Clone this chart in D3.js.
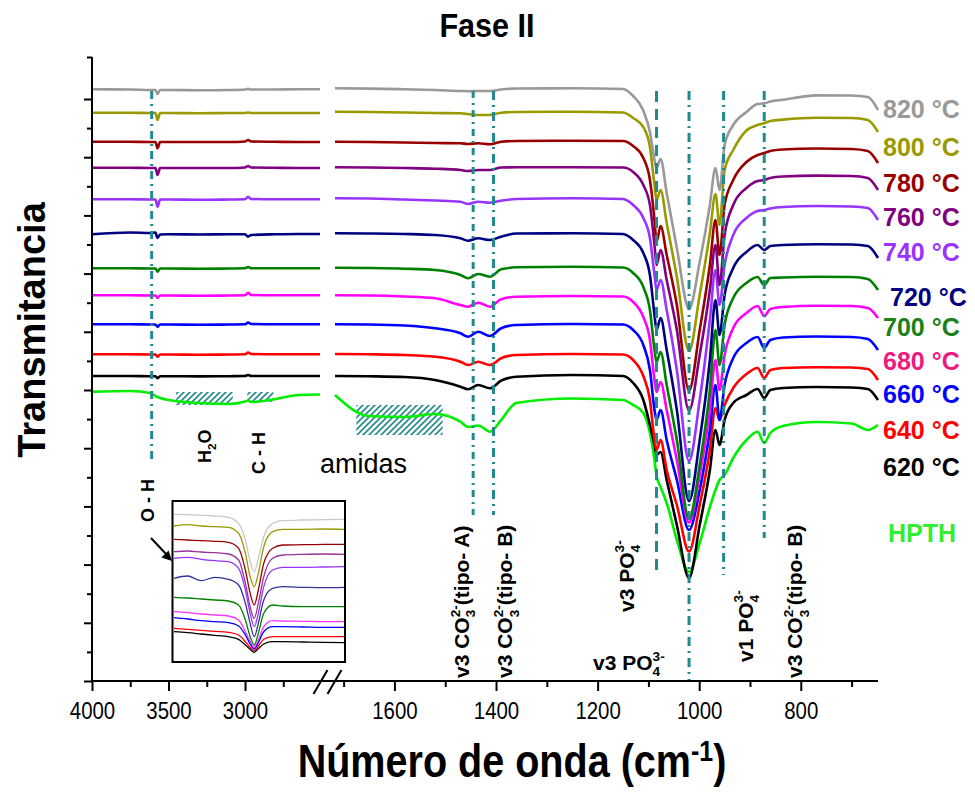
<!DOCTYPE html>
<html>
<head>
<meta charset="utf-8">
<script src="https://cdn.jsdelivr.net/npm/d3@7"></script>
<style>
  body { margin: 0; background: #fff; }
</style>
</head>
<body>
<div id="chart"></div>
<script>
// wavenumbers (cm-1), left block before the axis break, right block after it
var waveNumber = [4000, 3750, 3620, 3585, 3572, 3555, 3500, 3300, 3100, 3000, 2980, 2960, 2800, 2650, 2510,
  1717, 1650, 1580, 1520, 1470, 1455, 1435, 1412, 1390, 1360, 1250, 1150, 1130, 1110, 1097, 1088, 1084, 1076,
  1064, 1044, 1020, 999, 979, 968, 960, 950, 933, 907, 885, 872, 860, 835, 769, 700, 668, 648];

// transmittance (a.u., stacked)
var t820 = [591.7, 591.5, 591, 591, 587, 591, 591, 590.7, 591, 591.5, 592.2, 591.5, 591.5, 591.7, 591.7,
  592.7, 592.4, 591.7, 591, 590, 589.8, 590, 590, 591.5, 592.5, 592.7, 592, 585, 570.4, 549, 521, 513, 522,
  488, 433, 372, 419, 476, 513, 491, 536, 556, 569, 577, 577.6, 579.5, 581.2, 585.6, 585.5, 584, 571];
var t800 = [568.3, 568.2, 568, 568, 561, 568, 568, 567.8, 568, 568, 568.5, 568, 568, 568, 568,
  569.3, 569, 568.5, 568, 567.7, 567, 566, 566, 568.3, 569, 569.3, 568.5, 563, 554, 534, 496, 481, 491,
  458, 404, 330, 386, 448, 487, 456, 511, 531, 550.5, 556, 557.8, 560, 561.4, 563.2, 563, 561, 549];
var t780 = [539.3, 539.2, 539, 539, 532.7, 539, 539, 539, 539, 539.5, 541, 539.5, 539.2, 539, 539,
  539.3, 539, 538.5, 538, 537.7, 537, 537.7, 536.7, 539.3, 540, 540.3, 540, 535, 523, 501, 461, 439, 455,
  426, 376, 290.3, 351, 416, 461, 426, 476, 501, 519, 526, 528, 530, 531.5, 532.5, 532, 530, 518];
var t760 = [513.3, 513.2, 513, 513, 506, 513, 513, 513, 513, 513.5, 515, 513.5, 513.2, 513, 513,
  513.7, 513.5, 513, 512.3, 511, 510, 511, 511, 513.5, 513.7, 513.7, 513.5, 509, 496, 476, 436, 416, 431,
  401, 351, 270.4, 326, 391, 436, 396, 446, 476, 493, 500, 501, 503, 504.5, 505.4, 505, 503, 491];
var t740 = [481.7, 481.7, 481.5, 481.5, 474.3, 481.5, 481.5, 481.2, 481.5, 481.7, 484.3, 482, 481.7, 481.7, 481.7,
  482.7, 482.5, 481.5, 480.5, 479.3, 477, 479.3, 478.3, 480.3, 482, 482.7, 482, 476, 463, 443, 406, 391, 401,
  371, 311, 220, 281, 361, 411, 376, 416, 446, 463, 470, 471, 472.5, 474, 475, 474.5, 473, 461];
var t720 = [446.7, 448.5, 448, 448.5, 443, 446.5, 446.7, 446.5, 446.7, 446.7, 444.3, 446, 446.7, 447, 447,
  447.7, 447.5, 447, 446, 442.7, 440.3, 442.7, 441, 444.3, 447.5, 447.7, 447, 441, 428, 406, 366, 351, 363,
  331, 271, 180, 241, 321, 381, 346, 386, 413, 429, 436, 431, 435, 436, 436.7, 436.5, 435, 423];
var t700 = [412.7, 412.7, 412.5, 412.5, 409.3, 412.5, 412.5, 412.3, 412.5, 412.7, 414, 412.7, 412.7, 412.7, 412.7,
  413.3, 413, 412.3, 411, 406, 402.7, 407, 404.3, 411.7, 413.7, 414.3, 413.5, 408, 394, 371, 331, 319, 329,
  296, 241, 162, 216, 291, 351, 316, 356, 383, 398, 404, 396, 403, 403.5, 404.2, 404, 402, 391];
var t680 = [385.7, 385.7, 385.5, 385.5, 383, 385.5, 385.5, 385.3, 385.5, 385.7, 388.3, 386, 385.7, 385.7, 385.7,
  385.7, 385.5, 384.5, 382.7, 376, 374.3, 378.3, 374.3, 381.7, 384.3, 385, 384.5, 379, 364, 341, 301, 289, 299,
  271, 221, 158.4, 206, 271, 321, 291, 326, 353, 368, 375, 365, 372, 374, 375.2, 375, 373, 363];
var t660 = [356.7, 356.7, 356.5, 356.5, 354.3, 356.5, 356.5, 356.3, 356.5, 356.7, 358.5, 357, 356.7, 356.7, 356.7,
  356.7, 356.5, 355.5, 352.7, 347.7, 344.3, 349.3, 345, 352.7, 356, 357, 356.5, 351, 336, 311, 271, 261, 271,
  241, 201, 151, 191, 251, 296, 261, 296, 323, 338, 344, 333, 341, 343.5, 344.5, 344, 342, 331];
var t640 = [326.7, 326.7, 326.5, 326.5, 324.3, 326.5, 326.5, 326.3, 326.5, 326.7, 328.5, 327, 326.7, 326.7, 326.7,
  327, 326.7, 326, 324.3, 319.3, 316, 319.3, 316, 322.7, 326, 327, 326.5, 321, 305, 281, 241, 231, 241,
  211, 176, 129.5, 176, 231, 273, 261, 276, 293, 307, 313, 303, 311, 313, 313.8, 313.5, 312, 301];
var t620 = [305, 305, 304.8, 304.8, 302.7, 304.8, 304.8, 304.6, 304.8, 305, 306, 305, 305, 305, 305,
  305, 304.7, 304, 301, 294.3, 291.7, 296, 292.7, 300.3, 304.3, 306, 305, 298, 281, 256, 236, 226, 229,
  201, 156, 103, 156, 211, 251, 236, 261, 278, 286, 292, 283, 291, 293, 294, 293.5, 292, 281];
var tHPTH = [289.3, 290, 288, 285, 284, 283, 281, 278, 277, 279.5, 280.5, 279, 282, 286, 286.5,
  286, 265, 264, 267, 259.3, 254, 255.5, 249.3, 261, 278, 282.5, 281, 276, 268, 248, 221, 205, 194,
  178, 141, 109, 138, 174, 191, 201, 206, 223, 241, 249.3, 238, 248, 255, 259, 257.5, 251, 256];

var seriesNames = ["820 °C", "800 °C", "780 °C", "760 °C", "740 °C", "720 °C", "700 °C", "680 °C", "660 °C", "640 °C", "620 °C", "HPTH"];
var seriesValues = [t820, t800, t780, t760, t740, t720, t700, t680, t660, t640, t620, tHPTH];
var seriesColors = ["#999999", "#999900", "#990000", "#800080", "#9933ff", "#000080", "#008000", "#ff00ff", "#0000ff", "#ff0000", "#000000", "#00ee00"];
var labelColors = ["#999999", "#999900", "#990000", "#800080", "#9933ff", "#000080", "#1a801a", "#ee1a80", "#0000ff", "#ff0000", "#000000", "#33ee33"];
var labelY = [109, 147, 183, 217, 252, 297, 327, 361, 394, 430, 467, 533];

// inset: zoom on the O-H band
var insetWave = [3690, 3670, 3650, 3630, 3610, 3595, 3585, 3578, 3572, 3566, 3558, 3545, 3530, 3500, 3470, 3440];
var i820 = [147.7, 147.3, 146.7, 146, 144.7, 138.7, 122, 100.3, 90.3, 103.7, 125.3, 138.7, 141.3, 142, 142.3, 142.7];
var i800 = [136, 137.3, 136, 135.3, 134.7, 128.7, 108.7, 85.3, 75.3, 88.7, 115.3, 130.3, 132.7, 132.7, 133, 132.7];
var i780 = [122.7, 122, 121.3, 120.7, 119.7, 113.7, 92, 68.7, 57, 72, 98.7, 113.7, 117, 117.3, 117.7, 117.7];
var i760 = [110.3, 111, 110, 109.3, 108, 102, 78.7, 55.3, 43.7, 58.7, 85.3, 103.7, 107, 107.7, 108, 107.7];
var i740 = [103.7, 104.7, 102.7, 101.3, 100.3, 93.7, 72, 48.7, 35.3, 48.7, 75.3, 92, 94.7, 94.7, 95, 95.3];
var i720 = [83.7, 86, 81.3, 84.7, 82.7, 77, 58.7, 38.7, 25.3, 38.7, 62, 73.7, 75.3, 74.7, 74.3, 74.7];
var i700 = [64.7, 64, 63, 62, 61, 57, 42, 25.3, 17, 28.7, 48.7, 57, 56, 55.3, 55.3, 55.3];
var i680 = [50.3, 49.3, 48, 47, 46, 42, 30.3, 20.3, 14.7, 22, 35.3, 41.3, 41, 40.7, 40.3, 40.3];
var i660 = [44.3, 43, 41.3, 40.3, 39.3, 36, 27, 18, 13, 19.3, 30.3, 35.3, 35.3, 35, 34.7, 34.7];
var i640 = [33.7, 32.7, 31.7, 30.7, 29.7, 27, 20.3, 14.7, 11.3, 16, 22.7, 25.3, 25.3, 25.3, 25.3, 25.3];
var i620 = [30.3, 29.3, 28, 26.7, 25.3, 22.7, 17, 12.7, 9.7, 13.3, 18, 20.3, 20.3, 20, 19.7, 19.3];
var insetValues = [i820, i800, i780, i760, i740, i720, i700, i680, i660, i640, i620];
var insetColors = ["#c8c8c8", "#999900", "#990000", "#993399", "#9933ff", "#333399", "#008000", "#ff33ff", "#0000ff", "#ff0000", "#000000"];

// band markers
var bandWave = [3610, 1445, 1405, 1084, 1020, 952, 872];
var bandTop = [590, 590, 590, 590, 590, 590, 590];
var bandBottom = [221, 166, 166, 108, 0, 106, 143];
var bandDash = ["8,5,2,5", "7,5,2,5", "9,5,2,5", "11,7", "9,5,2,5", "9,5,2,5", "9,5,2,5"];

// hatched regions
var hatchFrom = [3450, 2985, 1675];
var hatchTo = [3080, 2815, 1505];
var hatchHigh = [289, 289, 276];
var hatchLow = [276, 279, 246];

var ticksLeft = [4000, 3500, 3000];
var minorLeft = [3750, 3250, 2750];
var ticksRight = [1600, 1400, 1200, 1000, 800];
var minorRight = [1700, 1500, 1300, 1100, 900, 700];

var teal = "#22898c";
var plain = "'Liberation Sans', Arial, sans-serif";

var svg = d3.select("#chart").append("svg")
    .attr("width", 975)
    .attr("height", 792)
    .style("font-family", plain);

var xLeft = d3.scaleLinear().domain([4000, 2510]).range([92, 320]);
var xRight = d3.scaleLinear().domain([1717, 648]).range([335, 878]);
var x = function(w) { return w > 2000 ? xLeft(w) : xRight(w); };
var y = d3.scaleLinear().domain([0, 624]).range([681, 57]);

var defs = svg.append("defs");
defs.append("pattern")
    .attr("id", "hatch")
    .attr("patternUnits", "userSpaceOnUse")
    .attr("width", 6)
    .attr("height", 6)
    .append("path")
    .attr("d", "M-1,1 l2,-2 M0,6 l6,-6 M5,7 l2,-2")
    .attr("stroke", teal)
    .attr("stroke-width", 1.6);

// narrow bold text (Arial Narrow look)
function narrowText(px, py, size, squeeze) {
    return svg.append("text")
        .attr("transform", "translate(" + px + "," + py + ") scale(" + squeeze + ",1)")
        .attr("text-anchor", "middle")
        .style("font-weight", "bold")
        .style("font-size", size + "px");
}

narrowText(487, 37, 34, 0.9).text("Fase II");

// hatches
hatchFrom.forEach(function(w, i) {
    svg.append("rect")
        .attr("x", x(w))
        .attr("y", y(hatchHigh[i]))
        .attr("width", x(hatchTo[i]) - x(w))
        .attr("height", y(hatchLow[i]) - y(hatchHigh[i]))
        .attr("fill", "url(#hatch)");
});

// spectra
var line = d3.line()
    .x(function(d) { return x(d[0]); })
    .y(function(d) { return y(d[1]); })
    .curve(d3.curveMonotoneX);

for (var k = seriesValues.length - 1; k >= 0; k--) {
    var pts = waveNumber.map(function(w, j) { return [w, seriesValues[k][j]]; });
    var segs = [pts.filter(function(d) { return d[0] > 2000; }), pts.filter(function(d) { return d[0] < 2000; })];
    svg.selectAll(null)
        .data(segs)
        .enter()
        .append("path")
        .attr("d", line)
        .attr("fill", "none")
        .attr("stroke", seriesColors[k])
        .attr("stroke-width", 2.6);
}

// band lines
bandWave.forEach(function(w, i) {
    svg.append("line")
        .attr("x1", x(w)).attr("x2", x(w))
        .attr("y1", y(bandTop[i])).attr("y2", y(bandBottom[i]))
        .attr("stroke", teal)
        .attr("stroke-width", 3)
        .attr("stroke-dasharray", bandDash[i]);
});

// text with sub / stacked superscript parts
function rich(t, parts, size) {
    var shift = 0;
    var small = size * 0.65;
    parts.forEach(function(p) {
        var s = t.append("tspan").text(p[0]);
        if (p[1] === 0) {
            s.attr("dy", -shift);
            shift = 0;
        } else if (p[1] === 1) {
            s.attr("dy", size * 0.3 - shift).style("font-size", small + "px");
            shift = size * 0.3;
        } else {
            s.attr("dx", -small * 0.556).attr("dy", -size * 0.45 - shift).style("font-size", small + "px");
            shift = -size * 0.45;
        }
    });
    return t;
}

function vlabel(px, py, parts, size) {
    var t = svg.append("text")
        .attr("transform", "translate(" + px + "," + py + ") rotate(-90)")
        .style("font-weight", "bold")
        .style("font-size", size + "px");
    rich(t, parts, size);
}

vlabel(154, 522, [["O - H", 0]], 18);
vlabel(211, 463, [["H", 0], ["2", 1], ["O", 0]], 18);
vlabel(265, 474, [["C - H", 0]], 18);
vlabel(x(1445) - 4, 678, [["v3 CO", 0], ["3", 1], ["2-", 2], ["(tipo- A)", 0]], 21);
vlabel(x(1405) + 19, 678, [["v3 CO", 0], ["3", 1], ["2-", 2], ["(tipo- B)", 0]], 21);
vlabel(x(1084) - 23, 612, [["v3 PO", 0], ["4", 1], ["3-", 2]], 21);
vlabel(x(952) + 29, 662, [["v1 PO", 0], ["4", 1], ["3-", 2]], 21);
vlabel(x(872) + 38, 678, [["v3 CO", 0], ["3", 1], ["2-", 2], ["(tipo- B)", 0]], 21);

rich(svg.append("text")
    .attr("x", 593).attr("y", 670)
    .style("font-weight", "bold").style("font-size", "21px"),
    [["v3 PO", 0], ["4", 1], ["3-", 2]], 21);

svg.append("text")
    .attr("x", 320).attr("y", 473)
    .style("font-size", "27px")
    .text("amidas");

// series labels on the right
svg.selectAll(".slabel")
    .data(seriesNames)
    .enter()
    .append("text")
    .attr("class", "slabel")
    .attr("x", function(d, i) { return i === 5 ? 890 : (i === 11 ? 888 : 883); })
    .attr("y", function(d, i) { return labelY[i]; })
    .attr("dy", "0.36em")
    .attr("fill", function(d, i) { return labelColors[i]; })
    .style("font-weight", "bold")
    .style("font-size", "25px")
    .text(function(d) { return d; });

// inset
var ix = d3.scaleLinear().domain([3690, 3440]).range([174, 344]);
var iy = d3.scaleLinear().domain([0, 161]).range([662, 501]);
svg.append("rect")
    .attr("x", 172.5).attr("y", 501).attr("width", 172.5).attr("height", 161)
    .attr("fill", "#fff").attr("stroke", "#000").attr("stroke-width", 2);
var iline = d3.line()
    .x(function(d) { return ix(d[0]); })
    .y(function(d) { return iy(d[1]); })
    .curve(d3.curveMonotoneX);
insetValues.forEach(function(vals, i) {
    svg.append("path")
        .datum(insetWave.map(function(w, j) { return [w, vals[j]]; }))
        .attr("d", iline)
        .attr("fill", "none")
        .attr("stroke", insetColors[i])
        .attr("stroke-width", 1.3);
});

// arrow to inset
svg.append("line")
    .attr("x1", 151).attr("y1", 538).attr("x2", 166).attr("y2", 554)
    .attr("stroke", "#000").attr("stroke-width", 2);
svg.append("path")
    .attr("d", "M172,561 L161.4,557.5 L168.6,550.5 Z")
    .attr("fill", "#000");

// axes
function styleAxis(g) {
    g.select(".domain").remove();
    g.selectAll(".tick line").attr("stroke", "#000").attr("stroke-width", 2);
    g.selectAll(".tick text")
        .attr("fill", "#000")
        .attr("transform", "scale(0.85,1)")
        .style("font-family", plain)
        .style("font-size", "24px");
}

var gx = svg.append("g").attr("transform", "translate(0,681)");
gx.append("g").call(d3.axisBottom(xLeft).tickValues(ticksLeft).tickSize(10).tickPadding(11).tickFormat(d3.format("d"))).call(styleAxis);
gx.append("g").call(d3.axisBottom(xLeft).tickValues(minorLeft).tickSize(6).tickFormat("")).call(styleAxis);
gx.append("g").call(d3.axisBottom(xRight).tickValues(ticksRight).tickSize(10).tickPadding(11).tickFormat(d3.format("d"))).call(styleAxis);
gx.append("g").call(d3.axisBottom(xRight).tickValues(minorRight).tickSize(6).tickFormat("")).call(styleAxis);
gx.append("line").attr("x1", 92).attr("x2", 878).attr("stroke", "#000").attr("stroke-width", 2);

// axis break
var mid = (xLeft.range()[1] + xRight.range()[0]) / 2;
[-7, 7].forEach(function(o) {
    gx.append("line")
        .attr("x1", mid + o - 7).attr("y1", 13)
        .attr("x2", mid + o + 7).attr("y2", -11)
        .attr("stroke", "#000").attr("stroke-width", 2);
});

var gy = svg.append("g").attr("transform", "translate(92,0)");
gy.append("g").call(d3.axisLeft(y).tickValues(d3.range(0, 600, 58.2)).tickSize(8).tickFormat("")).call(styleAxis);
gy.append("g").call(d3.axisLeft(y).tickValues(d3.range(29.1, 600, 58.2).concat([624])).tickSize(5).tickFormat("")).call(styleAxis);
gy.append("line").attr("y1", 57).attr("y2", 681).attr("stroke", "#000").attr("stroke-width", 2);

// axis titles
svg.append("text")
    .attr("transform", "translate(45,330) rotate(-90)")
    .attr("text-anchor", "middle")
    .style("font-weight", "bold").style("font-size", "38px")
    .text("Transmitancia");

var xt = narrowText(512, 777, 46, 0.86);
xt.append("tspan").text("Número de onda (cm");
xt.append("tspan").attr("dy", -16).style("font-size", "29px").text("-1");
xt.append("tspan").attr("dy", 16).text(")");
</script>
</body>
</html>
